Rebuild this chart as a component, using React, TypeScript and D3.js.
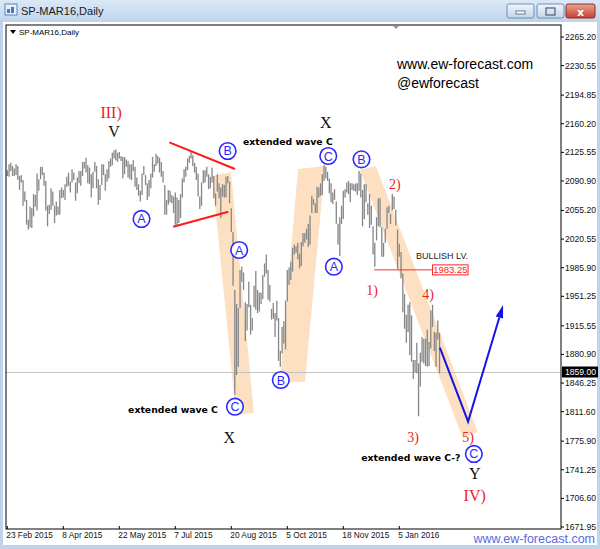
import { useEffect, useRef } from "react";
import * as d3 from "d3";

// daily bars, 23 Feb 2015 .. 5 Feb 2016 (holiday short sessions included)
const highs = [
  2104, 2111, 2113, 2109, 2106, 2111, 2109, 2097, 2098, 2092, 2078, 2068, 2044, 2060, 2058, 2075, 2074, 2100, 2093, 2108,
  2108, 2101, 2091, 2061, 2062, 2082, 2078, 2061, 2066, 2060, 2080, 2083, 2080, 2087, 2096, 2101, 2090, 2105, 2101, 2089,
  2095, 2103, 2103, 2114, 2114, 2119, 2110, 2107, 2099, 2102, 2114, 2109, 2093, 2086, 2111, 2111, 2099, 2105, 2115, 2118,
  2125, 2128, 2129, 2125, 2126, 2121, 2120, 2120, 2117, 2115, 2111, 2111, 2116, 2108, 2095, 2087, 2079, 2100, 2109, 2098,
  2088, 2092, 2100, 2120, 2111, 2124, 2121, 2119, 2114, 2103, 2086, 2068, 2080, 2079, 2074, 2072, 2077, 2071, 2068, 2075,
  2094, 2105, 2108, 2118, 2121, 2127, 2122, 2113, 2108, 2100, 2072, 2089, 2104, 2104, 2108, 2099, 2096, 2107, 2097, 2076,
  2099, 2088, 2083, 2087, 2086, 2096, 2097, 2090, 2058, 2029, 1959, 1942, 1937, 1983, 1987, 1980, 1944, 1942, 1969, 1941,
  1925, 1964, 1982, 1959, 1956, 1956, 1977, 1991, 2002, 1983, 1965, 1936, 1943, 1931, 1946, 1925, 1885, 1914, 1921, 1946,
  1983, 1986, 1993, 2010, 2014, 2012, 2016, 2003, 2017, 2028, 2028, 2033, 2039, 2049, 2073, 2069, 2064, 2084, 2083, 2088,
  2099, 2110, 2108, 2102, 2094, 2088, 2077, 2081, 2066, 2039, 2047, 2061, 2079, 2081, 2089, 2091, 2088, 2088, 2087, 2088,
  2088, 2103, 2100, 2080, 2087, 2087, 2064, 2075, 2061, 2036, 2016, 2047, 2070, 2070, 2035, 2016, 2033, 2059, 2061, 2051,
  2075, 2072, 2056, 2032, 2015, 2005, 1979, 1954, 1929, 1941, 1944, 1928, 1874, 1874, 1895, 1870, 1883, 1902, 1900, 1900,
  1911, 1896, 1934, 1941, 1908, 1907, 1922, 1907,
];
const lows = [
  2097, 2096, 2103, 2097, 2097, 2098, 2092, 2080, 2089, 2061, 2066, 2038, 2032, 2035, 2034, 2048, 2060, 2055, 2079, 2093,
  2098, 2085, 2055, 2036, 2051, 2056, 2061, 2040, 2049, 2050, 2050, 2070, 2071, 2068, 2084, 2085, 2077, 2089, 2092, 2067,
  2076, 2088, 2085, 2097, 2106, 2101, 2088, 2087, 2071, 2082, 2102, 2082, 2062, 2068, 2086, 2098, 2079, 2090, 2094, 2108,
  2110, 2118, 2116, 2114, 2118, 2115, 2094, 2099, 2108, 2095, 2093, 2092, 2103, 2084, 2080, 2073, 2066, 2074, 2098, 2086,
  2068, 2072, 2082, 2095, 2102, 2109, 2112, 2101, 2096, 2089, 2050, 2050, 2062, 2065, 2064, 2052, 2038, 2036, 2040, 2046,
  2071, 2089, 2096, 2104, 2113, 2118, 2109, 2101, 2092, 2072, 2057, 2061, 2088, 2089, 2096, 2081, 2082, 2089, 2070, 2061,
  2078, 2070, 2046, 2072, 2071, 2071, 2088, 2064, 2029, 1964, 1832, 1856, 1866, 1937, 1969, 1959, 1897, 1910, 1938, 1905,
  1910, 1938, 1935, 1931, 1933, 1942, 1948, 1975, 1979, 1947, 1945, 1923, 1924, 1902, 1922, 1873, 1866, 1882, 1894, 1887,
  1945, 1965, 1971, 1981, 2002, 2004, 1996, 1985, 1988, 2012, 2016, 2020, 2011, 2014, 2052, 2062, 2052, 2052, 2071, 2073,
  2074, 2091, 2094, 2091, 2076, 2065, 2063, 2068, 2039, 2014, 2000, 2039, 2045, 2071, 2077, 2075, 2065, 2080, 2079, 2078,
  2074, 2079, 2071, 2036, 2045, 2065, 2050, 2034, 2038, 2002, 1987, 2019, 2036, 2035, 1999, 1999, 2016, 2033, 2052, 2039,
  2055, 2057, 2037, 1984, 1999, 1973, 1932, 1912, 1895, 1908, 1880, 1872, 1851, 1859, 1858, 1806, 1842, 1872, 1870, 1867,
  1866, 1867, 1888, 1914, 1885, 1866, 1899, 1858,
];

const timeTickIndex = [0, 32, 64, 96, 128, 160, 192, 224];
const timeTickLabels = ["23 Feb 2015", "8 Apr 2015", "22 May 2015", "7 Jul 2015", "20 Aug 2015", "5 Oct 2015", "18 Nov 2015", "5 Jan 2016"];
const priceTicks = [2265.2, 2230.55, 2194.85, 2160.2, 2125.55, 2090.9, 2055.2, 2020.55, 1985.9, 1951.25, 1915.55, 1880.9, 1846.25, 1811.6, 1775.9, 1741.25, 1706.6, 1671.95];
const lastPrice = 1859.0;
const bullishLevel = 1983.25;

// annotations: [label, bar index, price]
const circledLabels: [string, number, number][] = [
  ["A", 76.7, 2044.9], ["B", 125.9, 2127.2], ["A", 132.5, 2007.3], ["C", 130.1, 1817.6], ["B", 156.3, 1849.9],
  ["C", 183.4, 2121.1], ["A", 186.6, 1987.1], ["B", 202.4, 2117.1], ["C", 266.6, 1760.4],
];
const degreeLabels: [string, number, number][] = [["III)", 59.3, 2174.4], ["IV)", 267.1, 1710.7]];
const waveLabels: [string, number, number][] = [["2)", 221.5, 2087.2], ["1)", 208.5, 1958.9], ["4)", 240.5, 1954.1], ["3)", 231.9, 1781.3], ["5)", 263.3, 1781.3]];
const blackLabels: [string, number, number][] = [["V", 61.0, 2151.4], ["X", 182.0, 2162.3], ["X", 126.8, 1780.9], ["Y", 267.1, 1737.4]];
const notes: [string, number, number][] = [["extended wave C", 160.3, 2138.1], ["extended wave C", 94.7, 1813.6], ["extended wave C-?", 230.6, 1755.5]];

const bands: [number, number][][] = [
  [[117.1, 2096.9], [127.8, 2101.8], [140.9, 1810.0], [130.7, 1807.6]],
  [[155.8, 1847.5], [170.1, 1847.5], [181.5, 2109.0], [166.1, 2105.4]],
  [[201.5, 2104.2], [210.6, 2109.0], [268.9, 1787.0], [260.3, 1779.7]],
];
const triangleLines: [number, number][][] = [
  [[92.6, 2137.7], [130.1, 2105.4]],
  [[94.8, 2035.5], [126.3, 2053.7]],
];
const forecastPath: [number, number][] = [[247.2, 1889.1], [263.3, 1799.5], [283.3, 1940.7]];
const bullishSpan = [209.6, 243.0, 263.3];

const App = () => {
  const svgRef = useRef<SVGSVGElement | null>(null);

  useEffect(() => {
    const svg = d3.select(svgRef.current);
    svg.selectAll("*").remove();
    const W = 600;
    const H = 549;
    const plot = { left: 6, right: 561, top: 25, bottom: 529 };

    const x = d3.scaleLinear().domain([0, 32]).range([7.3, 63.3]);
    const y = d3.scaleLinear().domain([1671.95, 2265.2]).range([527, 37]);

    const defs = svg.append("defs");
    const tg = defs.append("linearGradient").attr("id", "titleGrad").attr("x1", 0).attr("y1", 0).attr("x2", 0).attr("y2", 1);
    tg.append("stop").attr("offset", "0%").attr("stop-color", "#dbe8f6");
    tg.append("stop").attr("offset", "100%").attr("stop-color", "#bed4ec");
    const bg = defs.append("linearGradient").attr("id", "btnGrad").attr("x1", 0).attr("y1", 0).attr("x2", 0).attr("y2", 1);
    bg.append("stop").attr("offset", "0%").attr("stop-color", "#f1f5fb");
    bg.append("stop").attr("offset", "100%").attr("stop-color", "#c3d4e8");
    const cg = defs.append("linearGradient").attr("id", "closeGrad").attr("x1", 0).attr("y1", 0).attr("x2", 0).attr("y2", 1);
    cg.append("stop").attr("offset", "0%").attr("stop-color", "#e9a493");
    cg.append("stop").attr("offset", "100%").attr("stop-color", "#c4412c");
    defs.append("clipPath").attr("id", "plotClip").append("rect")
      .attr("x", plot.left).attr("y", plot.top)
      .attr("width", plot.right - plot.left).attr("height", plot.bottom - plot.top);

    // window chrome
    svg.append("rect").attr("width", W).attr("height", H).attr("fill", "#bfd4ec");
    svg.append("rect").attr("width", W).attr("height", 22).attr("fill", "url(#titleGrad)");
    svg.append("rect").attr("x", 3).attr("y", 22).attr("width", 594).attr("height", 523).attr("fill", "#ffffff");

    const icon = svg.append("g").attr("transform", "translate(5,4)");
    icon.append("rect").attr("width", 12).attr("height", 11).attr("fill", "#e8f0fa").attr("stroke", "#5b84b8");
    icon.append("rect").attr("x", 2).attr("y", 5).attr("width", 3).attr("height", 4).attr("fill", "#4a78c0");
    icon.append("rect").attr("x", 6).attr("y", 3).attr("width", 3).attr("height", 6).attr("fill", "#4a78c0");
    svg.append("text").attr("x", 21).attr("y", 15).attr("font-family", "Liberation Sans, Arial, sans-serif")
      .attr("font-size", 11).attr("fill", "#1b1b1b").text("SP-MAR16,Daily");

    const buttons = [
      { x0: 507, x1: 534, fill: "url(#btnGrad)", stroke: "#6f8fb8" },
      { x0: 537, x1: 564, fill: "url(#btnGrad)", stroke: "#6f8fb8" },
      { x0: 566, x1: 595, fill: "url(#closeGrad)", stroke: "#8d2e20" },
    ];
    buttons.forEach((b) => {
      svg.append("rect").attr("x", b.x0).attr("y", 4).attr("width", b.x1 - b.x0).attr("height", 14)
        .attr("rx", 2).attr("fill", b.fill).attr("stroke", b.stroke);
    });
    svg.append("rect").attr("x", 516).attr("y", 11).attr("width", 9).attr("height", 3).attr("fill", "#fff").attr("stroke", "#4a5f7e").attr("stroke-width", 0.8);
    svg.append("rect").attr("x", 546).attr("y", 8).attr("width", 9).attr("height", 7).attr("fill", "none").attr("stroke", "#4a5f7e").attr("stroke-width", 1.2);
    svg.append("text").attr("x", 580.5).attr("y", 15.5).attr("text-anchor", "middle").attr("font-family", "DejaVu Sans, sans-serif")
      .attr("font-size", 11).attr("font-weight", "bold").attr("fill", "#ffffff").text("x");

    // orange wave channels
    const gPlot = svg.append("g").attr("clip-path", "url(#plotClip)");
    const polyLine = d3.line<[number, number]>().x((d) => x(d[0])).y((d) => y(d[1]));
    gPlot.selectAll("path.band").data(bands).enter().append("path")
      .attr("class", "band")
      .attr("d", (d) => polyLine(d) + "Z")
      .attr("fill", "#fde0c2");

    // bid line
    gPlot.append("line").attr("x1", plot.left).attr("x2", plot.right)
      .attr("y1", y(lastPrice)).attr("y2", y(lastPrice)).attr("stroke", "#c4c4c4").attr("stroke-width", 1);

    // price bars
    gPlot.selectAll("line.bar").data(highs).enter().append("line")
      .attr("class", "bar")
      .attr("x1", (_, i) => x(i)).attr("x2", (_, i) => x(i))
      .attr("y1", (d) => y(d)).attr("y2", (_, i) => y(lows[i]))
      .attr("stroke", "#868686").attr("stroke-width", 1.3);

    // triangle lines
    gPlot.selectAll("path.tri").data(triangleLines).enter().append("path")
      .attr("class", "tri").attr("d", (d) => polyLine(d))
      .attr("stroke", "#ff1a1a").attr("stroke-width", 2).attr("fill", "none");

    // bullish level
    const ly = y(bullishLevel);
    gPlot.append("line").attr("x1", x(bullishSpan[0])).attr("x2", x(bullishSpan[1]))
      .attr("y1", ly).attr("y2", ly).attr("stroke", "#f03030").attr("stroke-width", 1);
    gPlot.append("rect").attr("x", x(bullishSpan[1])).attr("y", ly - 5)
      .attr("width", x(bullishSpan[2]) - x(bullishSpan[1])).attr("height", 10)
      .attr("fill", "#ffffff").attr("stroke", "#ff2020").attr("stroke-width", 1);
    gPlot.append("text").attr("x", (x(bullishSpan[1]) + x(bullishSpan[2])) / 2).attr("y", ly + 3.5)
      .attr("text-anchor", "middle").attr("font-family", "Liberation Sans, Arial, sans-serif")
      .attr("font-size", 9.5).attr("fill", "#ff1a1a").text(bullishLevel.toFixed(2));
    gPlot.append("text").attr("x", x(bullishSpan[2])).attr("y", ly - 11)
      .attr("text-anchor", "end").attr("font-family", "Liberation Sans, Arial, sans-serif")
      .attr("font-size", 9).attr("fill", "#222").text("BULLISH LV.");

    // forecast arrow
    const fp = forecastPath.map((d) => [x(d[0]), y(d[1])]);
    const [tx, ty] = fp[2];
    const [px, py] = fp[1];
    const ang = Math.atan2(ty - py, tx - px);
    const headLen = 13;
    const headW = 3.8;
    const bx = tx - headLen * Math.cos(ang);
    const by = ty - headLen * Math.sin(ang);
    gPlot.append("path")
      .attr("d", d3.line()([fp[0] as [number, number], fp[1] as [number, number], [bx, by]]))
      .attr("fill", "none").attr("stroke", "#1414e6").attr("stroke-width", 2);
    gPlot.append("path")
      .attr("d", `M${tx},${ty}L${bx + headW * Math.sin(ang)},${by - headW * Math.cos(ang)}L${bx - headW * Math.sin(ang)},${by + headW * Math.cos(ang)}Z`)
      .attr("fill", "#1414e6");

    // labels
    const serif = "Liberation Serif, Times New Roman, serif";
    const addText = (list: [string, number, number][], size: number, color: string, family: string, weight = "normal") => {
      gPlot.selectAll(null).data(list).enter().append("text")
        .attr("x", (d) => x(d[1])).attr("y", (d) => y(d[2]))
        .attr("dy", "0.35em").attr("text-anchor", "middle")
        .attr("font-family", family).attr("font-size", size).attr("font-weight", weight)
        .attr("fill", color).text((d) => d[0]);
    };
    addText(degreeLabels, 16, "#ee1c1c", serif);
    addText(waveLabels, 14, "#ee1c1c", serif);
    addText(blackLabels, 16, "#111", serif);
    addText(notes, 9.3, "#000", "DejaVu Sans, Verdana, sans-serif", "bold");

    const circ = gPlot.selectAll("g.circ").data(circledLabels).enter().append("g")
      .attr("class", "circ")
      .attr("transform", (d) => `translate(${x(d[1])},${y(d[2])})`);
    circ.append("circle").attr("r", 8.3).attr("fill", "#ffffff").attr("stroke", "#2a2aff").attr("stroke-width", 1.6);
    circ.append("text").attr("dy", "0.36em").attr("text-anchor", "middle")
      .attr("font-family", "Liberation Sans, Arial, sans-serif").attr("font-size", 12.5)
      .attr("fill", "#2a2aff").text((d) => d[0]);

    // plot frame
    svg.append("rect").attr("x", plot.left).attr("y", plot.top)
      .attr("width", plot.right - plot.left).attr("height", plot.bottom - plot.top)
      .attr("fill", "none").attr("stroke", "#000").attr("stroke-width", 1);
    svg.append("path").attr("d", "M393,26L399,26L396,29Z").attr("fill", "#9a9a9a");
    svg.append("path").attr("d", "M10,30L16,30L13,34Z").attr("fill", "#000");
    svg.append("text").attr("x", 19).attr("y", 35).attr("font-family", "Liberation Sans, Arial, sans-serif")
      .attr("font-size", 8).attr("fill", "#000").text("SP-MAR16,Daily");

    // watermark
    svg.append("text").attr("x", 397).attr("y", 69).attr("font-family", "Liberation Sans, Arial, sans-serif")
      .attr("font-size", 14).attr("fill", "#000").text("www.ew-forecast.com");
    svg.append("text").attr("x", 397).attr("y", 88).attr("font-family", "Liberation Sans, Arial, sans-serif")
      .attr("font-size", 14).attr("fill", "#000").text("@ewforecast");

    // price axis
    const yAxis = svg.append("g");
    priceTicks.forEach((p) => {
      yAxis.append("line").attr("x1", plot.right).attr("x2", plot.right + 3)
        .attr("y1", y(p)).attr("y2", y(p)).attr("stroke", "#000");
      yAxis.append("text").attr("x", 565).attr("y", y(p)).attr("dy", "0.35em")
        .attr("font-family", "Tahoma, Liberation Sans, Arial, sans-serif").attr("font-size", 8.6)
        .attr("fill", "#111").text(p.toFixed(2));
    });
    yAxis.append("rect").attr("x", 562).attr("y", y(lastPrice) - 6).attr("width", 36).attr("height", 11).attr("fill", "#000");
    yAxis.append("text").attr("x", 565).attr("y", y(lastPrice)).attr("dy", "0.33em")
      .attr("font-family", "Tahoma, Liberation Sans, Arial, sans-serif").attr("font-size", 8.6)
      .attr("fill", "#fff").text(lastPrice.toFixed(2));

    // time axis
    const xAxis = svg.append("g");
    timeTickIndex.forEach((idx, k) => {
      xAxis.append("line").attr("x1", x(idx)).attr("x2", x(idx))
        .attr("y1", plot.bottom - 3).attr("y2", plot.bottom).attr("stroke", "#000");
      xAxis.append("text").attr("x", x(idx) - 1).attr("y", 537.5)
        .attr("font-family", "Tahoma, Liberation Sans, Arial, sans-serif").attr("font-size", 8.3)
        .attr("fill", "#111").text(timeTickLabels[k]);
    });

    svg.append("text").attr("x", 595).attr("y", 543).attr("text-anchor", "end")
      .attr("font-family", "Liberation Sans, Arial, sans-serif").attr("font-size", 12.5)
      .attr("fill", "#5b6be0").text("www.ew-forecast.com");
  }, []);

  return (
    <svg
      ref={svgRef}
      role="img"
      aria-label="SP-MAR16 daily chart"
      width={600}
      height={549}
      style={{ position: "absolute", left: 0, top: 0 }}
    />
  );
};

export default App;
